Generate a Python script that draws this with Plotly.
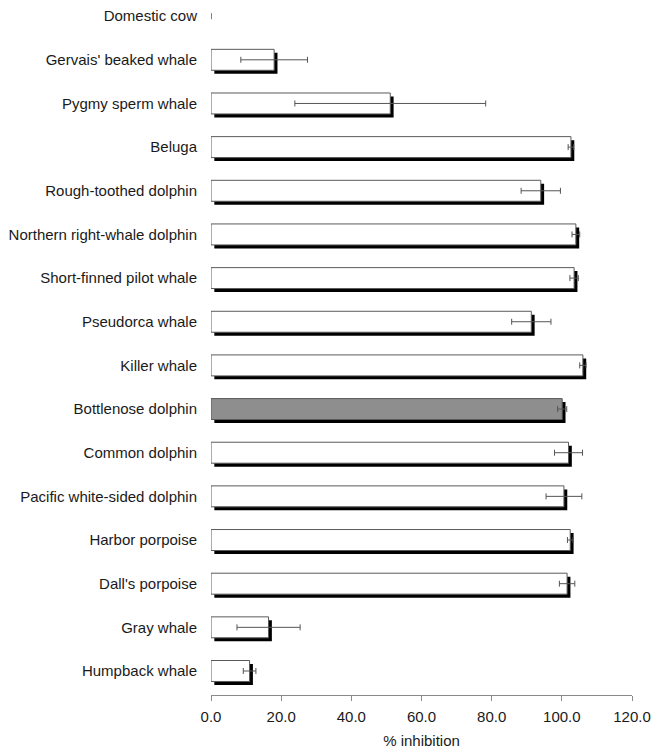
import plotly.graph_objects as go

# Species listed top to bottom
species = [
    "Domestic cow", "Gervais' beaked whale", "Pygmy sperm whale", "Beluga",
    "Rough-toothed dolphin", "Northern right-whale dolphin",
    "Short-finned pilot whale", "Pseudorca whale", "Killer whale",
    "Bottlenose dolphin", "Common dolphin", "Pacific white-sided dolphin",
    "Harbor porpoise", "Dall's porpoise", "Gray whale", "Humpback whale",
]
inhibition = [0.0, 18.0, 51.1, 102.6, 94.0, 104.0, 103.5, 91.3, 106.0,
              100.1, 101.9, 100.6, 102.4, 101.5, 16.4, 11.0]
inhibition_err = [0.0, 9.5, 27.2, 0.8, 5.6, 1.1, 1.2, 5.6, 0.9,
                  1.3, 4.0, 5.1, 0.8, 2.2, 9.0, 1.8]
x_ticks = [0, 20, 40, 60, 80, 100, 120]
x_tick_text = ["0.0", "20.0", "40.0", "60.0", "80.0", "100.0", "120.0"]

n = len(species)
ypos = [n - 1 - i for i in range(n)]
bar_w = 0.48
shadow_dx = 0.95   # data units along x
shadow_dy = 0.08   # category units

fills = ["#8e8e8e" if s == "Bottlenose dolphin" else "white" for s in species]
line_w = [0 if v == 0 else 1 for v in inhibition]

fig = go.Figure()

# Drop shadow behind each bar
fig.add_trace(go.Bar(
    orientation="h", y=ypos, x=inhibition, base=shadow_dx,
    width=bar_w, offset=-bar_w / 2 - shadow_dy,
    marker=dict(color="black", line=dict(width=0)),
    hoverinfo="skip", showlegend=False,
))

# Main bars with error bars
fig.add_trace(go.Bar(
    orientation="h", y=ypos, x=inhibition,
    width=bar_w, offset=-bar_w / 2,
    marker=dict(color=fills, line=dict(color="#5a5a5a", width=line_w)),
    error_x=dict(type="data", array=inhibition_err, color="#555555",
                 thickness=1, width=3),
    showlegend=False,
))

font_family = "Liberation Sans, Arial, sans-serif"

fig.update_layout(
    width=651, height=749,
    margin=dict(l=211, r=19, t=0, b=54),
    paper_bgcolor="white", plot_bgcolor="white",
    barmode="overlay",
    font=dict(family=font_family, size=15, color="#1a1a1a"),
    xaxis=dict(
        range=[0, 120], tickvals=x_ticks, ticktext=x_tick_text,
        showgrid=False, zeroline=False,
        showline=True, linecolor="#8a8a8a", linewidth=1,
        ticks="outside", ticklen=5, tickcolor="#8a8a8a", tickwidth=1,
        ticklabelstandoff=3,
        title=dict(text="% inhibition", standoff=12,
                   font=dict(size=15)),
        tickfont=dict(size=15),
    ),
    yaxis=dict(
        range=[-0.55, n - 1 + 0.37],
        tickvals=ypos, ticktext=species,
        showgrid=False, zeroline=False, showline=False,
        ticks="", ticklabelstandoff=13,
        tickfont=dict(size=15),
    ),
)

fig.write_html("out.html")
